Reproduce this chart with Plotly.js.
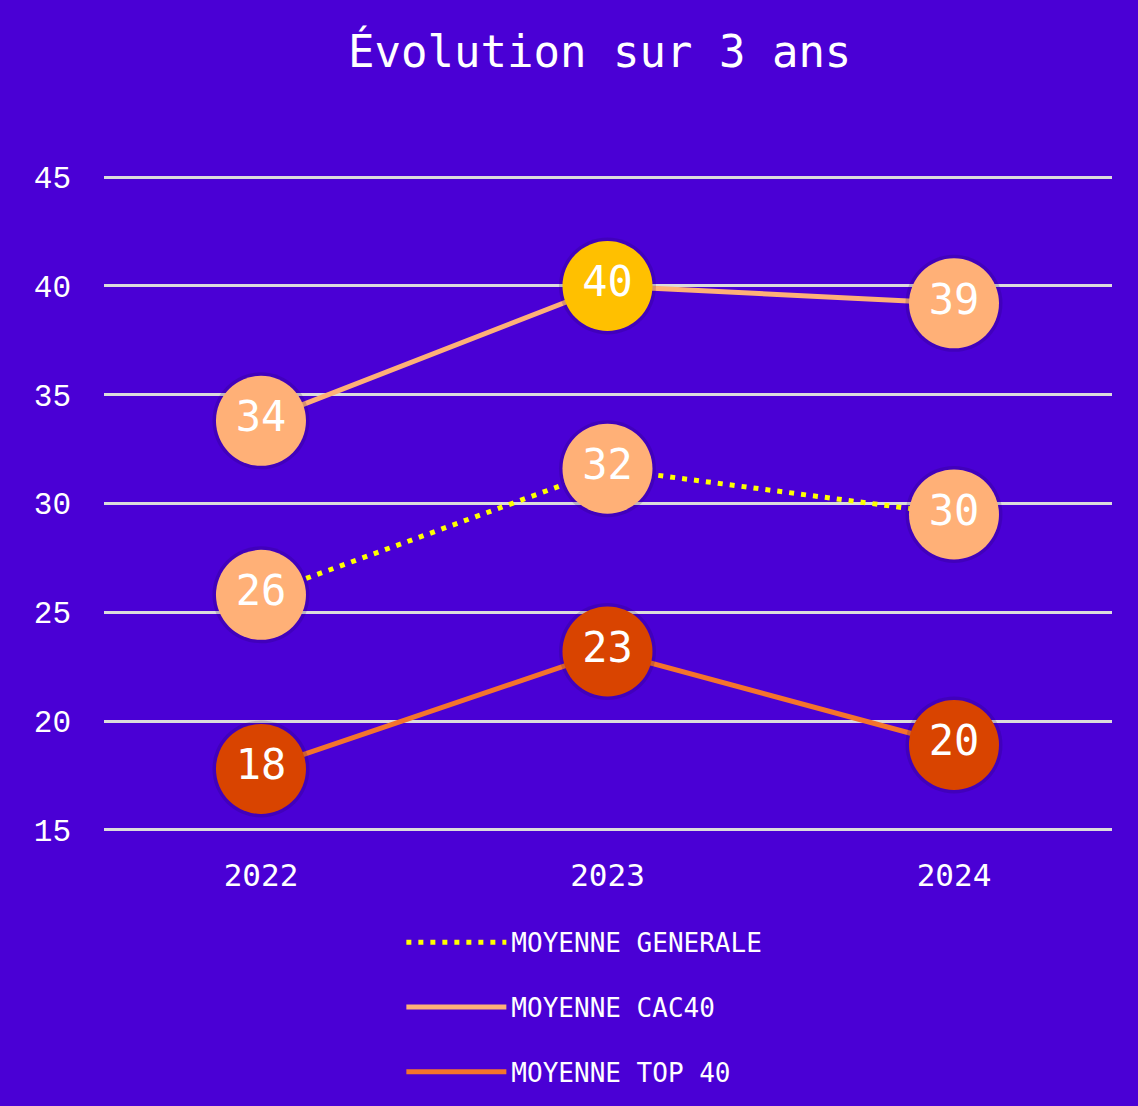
<!DOCTYPE html>
<html>
<head>
<meta charset="utf-8">
<script src="https://cdn.plot.ly/plotly-3.0.1.min.js"></script>
<style>html,body{margin:0;padding:0;background:#4A00D5;}#chart{width:1138px;height:1106px;}</style>
</head>
<body>
<div id="chart"></div>
<script>
const years = ['2022', '2023', '2024'];
const moyenneGenerale = [25.8, 31.6, 29.5];
const moyenneCac40 = [33.8, 40.0, 39.2];
const moyenneTop40 = [17.8, 23.2, 18.9];
const labelsGenerale = ['26', '32', '30'];
const labelsCac40 = ['34', '40', '39'];
const labelsTop40 = ['18', '23', '20'];
const seriesNames = ['MOYENNE GENERALE', 'MOYENNE CAC40', 'MOYENNE TOP 40'];

const BG = '#4A00D5';
const PEACH = '#FFB077';
const GOLD = '#FFC000';
const RED = '#D94400';
const ORANGE = '#F5732C';
const YELLOW = '#FFFF00';
const MONO = 'DejaVu Sans Mono, monospace';

function shadow(y) {
  return {x: years, y: y, type: 'scatter', mode: 'markers', showlegend: false, hoverinfo: 'skip',
    marker: {size: 97, color: 'rgba(30,0,80,0.18)', line: {width: 0}}};
}

const textFont = {family: MONO, size: 42, color: '#FFFFFF'};

const traces = [
  {x: years, y: moyenneGenerale, name: seriesNames[0], type: 'scatter', mode: 'lines',
   line: {color: YELLOW, width: 5, dash: '5px,7px'}, legendgroup: 'g1', hoverinfo: 'skip'},
  {x: years, y: moyenneCac40, name: seriesNames[1], type: 'scatter', mode: 'lines',
   line: {color: PEACH, width: 5}, legendgroup: 'g2', hoverinfo: 'skip'},
  {x: years, y: moyenneTop40, name: seriesNames[2], type: 'scatter', mode: 'lines',
   line: {color: ORANGE, width: 5}, legendgroup: 'g3', hoverinfo: 'skip'},
  shadow(moyenneGenerale), shadow(moyenneCac40), shadow(moyenneTop40),
  {x: years, y: moyenneGenerale, type: 'scatter', mode: 'markers+text', showlegend: false,
   text: labelsGenerale, textposition: 'middle center', textfont: textFont,
   marker: {size: 90, color: PEACH, line: {width: 0}}},
  {x: years, y: moyenneCac40, type: 'scatter', mode: 'markers+text', showlegend: false,
   text: labelsCac40, textposition: 'middle center', textfont: textFont,
   marker: {size: 90, color: [PEACH, GOLD, PEACH], line: {width: 0}}},
  {x: years, y: moyenneTop40, type: 'scatter', mode: 'markers+text', showlegend: false,
   text: labelsTop40, textposition: 'middle center', textfont: textFont,
   marker: {size: 90, color: RED, line: {width: 0}}}
];

const layout = {
  width: 1138, height: 1106,
  paper_bgcolor: BG, plot_bgcolor: BG,
  margin: {l: 104, r: 26, t: 175, b: 274, pad: 0, autoexpand: false},
  title: {text: 'Évolution sur 3 ans', font: {family: MONO, size: 44, color: '#FFFFFF'},
          x: 0.527, xref: 'container', xanchor: 'center', y: 0.953, yref: 'container', yanchor: 'middle'},
  xaxis: {type: 'category', range: [-0.453, 2.456], showgrid: false, zeroline: false, showline: false,
          ticks: '', tickfont: {family: MONO, size: 31, color: '#FFFFFF'}, ticklabelstandoff: 22,
          fixedrange: true, automargin: false},
  yaxis: {range: [14.9, 45.1], tickvals: [15, 20, 25, 30, 35, 40, 45], showgrid: true,
          gridcolor: '#DCDCDC', gridwidth: 3, zeroline: false, showline: false, ticks: '',
          tickfont: {family: 'Liberation Mono, monospace', size: 31, color: '#FFFFFF'},
          ticklabelstandoff: 32, fixedrange: true, automargin: false},
  showlegend: true,
  legend: {orientation: 'v', x: 0.295, xanchor: 'left', y: 0.1693, yref: 'container', yanchor: 'top',
           font: {family: MONO, size: 26, color: '#FFFFFF'}, tracegroupgap: 28,
           bgcolor: 'rgba(0,0,0,0)', itemwidth: 100},
  hovermode: false
};

Plotly.newPlot('chart', traces, layout, {displayModeBar: false, staticPlot: true});
</script>
</body>
</html>
